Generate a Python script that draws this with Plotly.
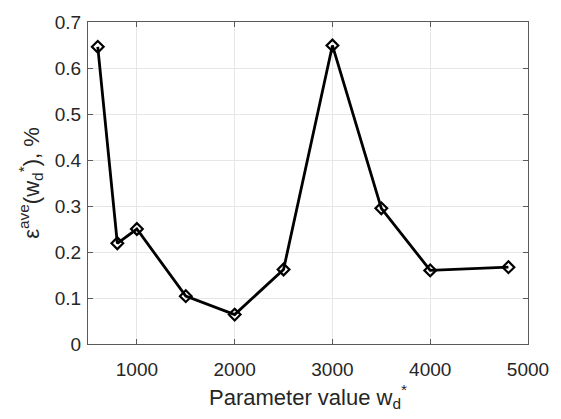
import plotly.graph_objects as go

x_vals = [600, 800, 1000, 1500, 2000, 2500, 3000, 3500, 4000, 4800]
y_vals = [0.646, 0.219, 0.250, 0.104, 0.064, 0.162, 0.649, 0.295, 0.160, 0.167]
x_ticks = [1000, 2000, 3000, 4000, 5000]
y_ticks = [0, 0.1, 0.2, 0.3, 0.4, 0.5, 0.6, 0.7]
y_tick_text = ["0", "0.1", "0.2", "0.3", "0.4", "0.5", "0.6", "0.7"]

FONT = "Liberation Sans, Arial, Helvetica"

fig = go.Figure()
fig.add_trace(go.Scatter(
    x=x_vals, y=y_vals, mode="lines+markers",
    line=dict(color="black", width=2.8),
    marker=dict(symbol="diamond-open", size=9, color="black", line=dict(width=2.2, color="black")),
    showlegend=False,
))

axis_common = dict(
    showgrid=True, gridcolor="#e6e6e6", gridwidth=1,
    showline=True, linecolor="#5a5a5a", linewidth=1, mirror="allticks",
    ticks="inside", ticklen=5, tickcolor="#5a5a5a",
    tickfont=dict(family=FONT, size=19, color="#262626"),
    zeroline=False,
)

fig.update_layout(
    width=561, height=419,
    margin=dict(l=88, r=22, t=12, b=75),
    paper_bgcolor="white", plot_bgcolor="white",
    xaxis=dict(range=[500, 5000], tickvals=x_ticks, ticktext=[str(v) for v in x_ticks],
               ticklabelstandoff=8,
               title=dict(text="Parameter value w<sub>d</sub><sup>*</sup>", standoff=10,
                          font=dict(family=FONT, size=22, color="#262626")),
               **axis_common),
    yaxis=dict(range=[0, 0.7], tickvals=y_ticks, ticktext=y_tick_text,
               ticklabelstandoff=2,
               title=dict(text="ε<sup>ave</sup>(w<sub>d</sub><sup>*</sup>), %", standoff=9,
                          font=dict(family=FONT, size=22, color="#262626")),
               **axis_common),
)

fig.write_html("out.html")
